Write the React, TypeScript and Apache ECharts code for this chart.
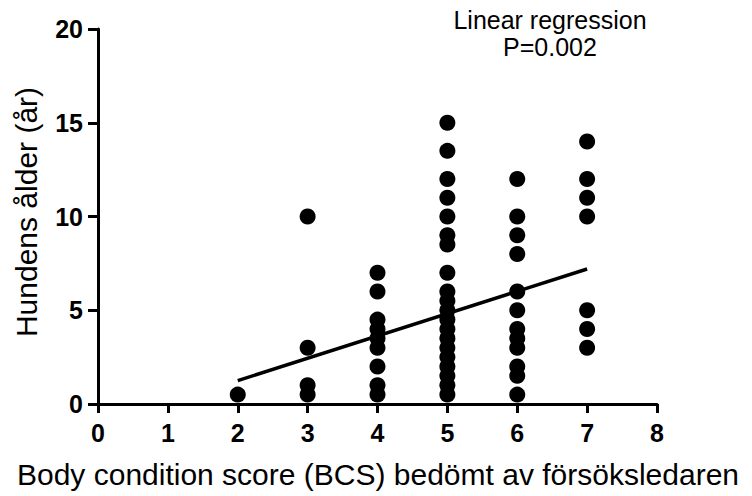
import React, { useEffect, useRef } from "react";
import * as echarts from "echarts";

const xTicks = [0, 1, 2, 3, 4, 5, 6, 7, 8];
const yTicks = [0, 5, 10, 15, 20];

const bcs2 = [0.5];
const bcs3 = [10, 3, 1, 0.5];
const bcs4 = [7, 6, 4.5, 4, 3.5, 3, 2, 1, 0.5];
const bcs5 = [15, 13.5, 12, 11, 10, 9, 8.5, 7, 6, 5.5, 5, 4.5, 4, 3.5, 3, 2.5, 2, 1.5, 1, 0.5];
const bcs6 = [12, 10, 9, 8, 6, 5, 4, 3.5, 3, 2, 1.5, 0.5];
const bcs7 = [14, 12, 11, 10, 5, 4, 3];

const groups: [number, number[]][] = [
  [2, bcs2],
  [3, bcs3],
  [4, bcs4],
  [5, bcs5],
  [6, bcs6],
  [7, bcs7],
];

const regressionX = [2, 7];
const regressionY = [1.25, 7.2];

const annotation = ["Linear regression", "P=0.002"];
const xTitle = "Body condition score (BCS) bedömt av försöksledaren";
const yTitle = "Hundens ålder (år)";

const FONT = "'Liberation Sans', Arial, Helvetica, sans-serif";

export default function App() {
  const ref = useRef<HTMLDivElement>(null);
  useEffect(() => {
    if (!ref.current) return;
    const chart = echarts.init(ref.current, null, { renderer: "svg" });
    const points: number[][] = [];
    groups.forEach(([x, ys]) => ys.forEach((y) => points.push([x, y])));
    const line = regressionX.map((x, i) => [x, regressionY[i]]);
    chart.setOption({
      animation: false,
      backgroundColor: "#ffffff",
      grid: { left: 98, right: 95, top: 29, bottom: 92, containLabel: false },
      xAxis: {
        type: "value",
        min: 0,
        max: 8,
        interval: 1,
        axisLine: { show: true, onZero: false, lineStyle: { color: "#000", width: 3 } },
        axisTick: { show: true, length: 9, lineStyle: { color: "#000", width: 3 } },
        axisLabel: {
          color: "#000",
          fontSize: 25,
          fontWeight: "bold",
          fontFamily: FONT,
          margin: 16,
          formatter: (v: number) => (xTicks.includes(v) ? String(v) : ""),
        },
        splitLine: { show: false },
      },
      yAxis: {
        type: "value",
        min: 0,
        max: 20,
        interval: 5,
        axisLine: { show: true, onZero: false, lineStyle: { color: "#000", width: 3 } },
        axisTick: { show: true, length: 10, lineStyle: { color: "#000", width: 3 } },
        axisLabel: {
          color: "#000",
          fontSize: 25,
          fontWeight: "bold",
          fontFamily: FONT,
          margin: 15,
          formatter: (v: number) => (yTicks.includes(v) ? String(v) : ""),
        },
        splitLine: { show: false },
      },
      graphic: [
        {
          type: "text",
          x: 550,
          y: 20,
          style: {
            text: annotation[0],
            fill: "#000",
            font: `25px ${FONT}`,
            align: "center",
            verticalAlign: "middle",
          },
        },
        {
          type: "text",
          x: 550,
          y: 47,
          style: {
            text: annotation[1],
            fill: "#000",
            font: `25px ${FONT}`,
            align: "center",
            verticalAlign: "middle",
          },
        },
        {
          type: "text",
          x: 378,
          y: 474,
          style: {
            text: xTitle,
            fill: "#000",
            font: `30px ${FONT}`,
            align: "center",
            verticalAlign: "middle",
          },
        },
        {
          type: "text",
          x: 26,
          y: 212,
          rotation: Math.PI / 2,
          style: {
            text: yTitle,
            fill: "#000",
            font: `30px ${FONT}`,
            align: "center",
            verticalAlign: "middle",
          },
        },
      ],
      series: [
        {
          type: "line",
          data: line,
          symbol: "none",
          lineStyle: { color: "#000", width: 3.5 },
          z: 3,
        },
        {
          type: "scatter",
          data: points,
          symbol: "circle",
          symbolSize: 16,
          itemStyle: { color: "#000", opacity: 1 },
          z: 4,
        },
      ],
    });
    return () => chart.dispose();
  }, []);
  return (
    <div
      ref={ref}
      style={{ position: "fixed", left: 0, top: 0, width: 752, height: 496, background: "#fff" }}
    />
  );
}
